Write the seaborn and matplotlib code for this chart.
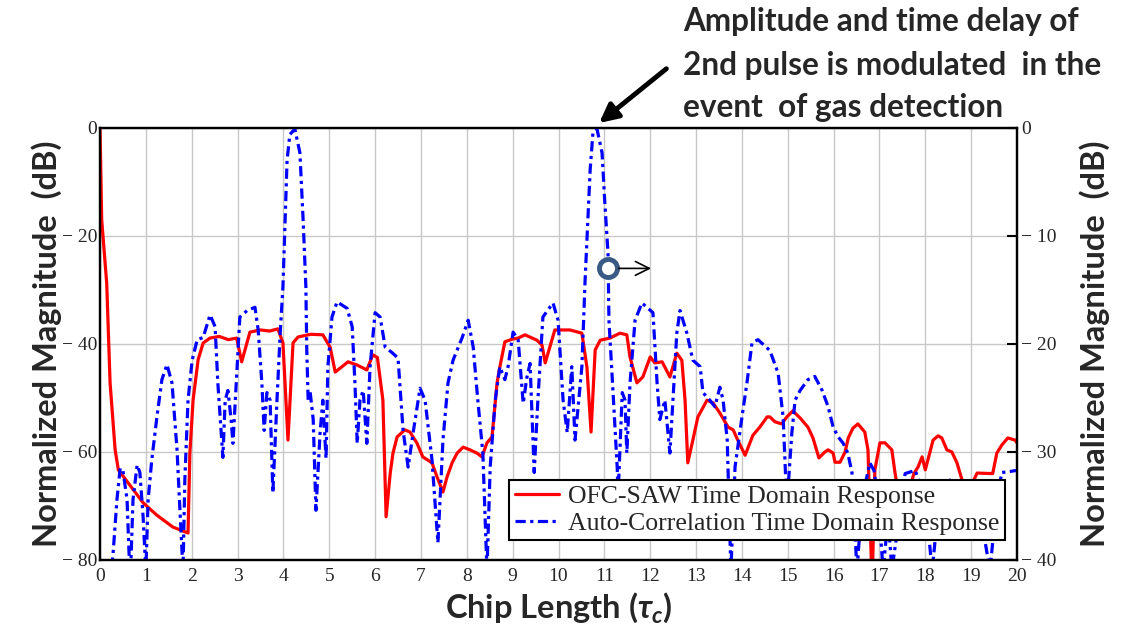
import numpy as np
import pandas as pd
import matplotlib
matplotlib.use("Agg")
import matplotlib.pyplot as plt
import seaborn as sns

# OFC-SAW time-domain response (left axis, dB)
ofc_t = [0.0, 0.037, 0.146, 0.22, 0.33, 0.40, 0.94, 1.24, 1.59, 1.92, 1.96, 2.03, 2.14, 2.25,
         2.40, 2.6, 2.8, 2.98, 3.09, 3.27, 3.5, 3.7, 3.88, 3.99, 4.10, 4.21, 4.32, 4.6, 4.86,
         5.02, 5.13, 5.41, 5.61, 5.82, 5.95, 6.05, 6.17, 6.24, 6.33, 6.39, 6.48, 6.65, 6.76,
         6.91, 7.04, 7.24, 7.35, 7.48, 7.57, 7.68, 7.79, 7.92, 8.07, 8.22, 8.33, 8.44, 8.55,
         8.66, 8.72, 8.83, 8.99, 9.12, 9.27, 9.53, 9.64, 9.71, 9.81, 9.92, 10.25, 10.51, 10.62,
         10.71, 10.80, 10.91, 11.12, 11.34, 11.49, 11.56, 11.71, 11.84, 12.00, 12.10, 12.26,
         12.43, 12.58, 12.69, 12.76, 12.82, 12.93, 13.04, 13.24, 13.37, 13.52, 13.70, 13.81,
         13.91, 14.07, 14.24, 14.39, 14.55, 14.61, 14.72, 14.87, 14.98, 15.11, 15.27, 15.44,
         15.55, 15.68, 15.81, 15.88, 15.99, 16.03, 16.14, 16.25, 16.32, 16.42, 16.53, 16.68,
         16.75, 16.84, 16.90, 17.01, 17.12, 17.27, 17.34, 17.5, 17.75, 17.84, 17.93, 18.0,
         18.17, 18.28, 18.36, 18.47, 18.58, 18.69, 18.9, 19.13, 19.47, 19.56, 19.67, 19.80,
         19.96, 20.0]
ofc_db = [0.0, -17.0, -28.7, -47.2, -59.6, -63.3, -69.4, -71.7, -73.9, -75.0, -60.2, -50.4,
          -42.9, -39.8, -38.9, -38.6, -39.2, -38.9, -43.3, -37.8, -37.4, -37.6, -37.2, -39.8,
          -57.8, -39.8, -38.7, -38.2, -38.3, -40.6, -45.2, -43.3, -43.9, -44.8, -42.0, -42.5,
          -50.4, -72.0, -63.9, -60.2, -57.2, -55.9, -56.3, -58.3, -60.9, -62.0, -64.6, -67.4,
          -64.6, -62.0, -60.2, -59.1, -59.6, -60.2, -60.9, -58.3, -57.2, -47.2, -44.3, -39.6,
          -39.1, -38.9, -38.3, -39.3, -40.2, -43.5, -40.6, -37.4, -37.4, -38.0, -44.3, -56.3,
          -41.1, -39.3, -38.9, -38.0, -38.3, -42.4, -47.2, -46.1, -42.4, -43.5, -43.3, -46.1,
          -41.7, -43.0, -50.4, -62.0, -57.8, -53.5, -50.4, -50.9, -52.8, -55.4, -55.9, -57.8,
          -60.6, -56.9, -55.4, -53.5, -53.5, -54.4, -54.8, -53.5, -52.4, -53.7, -55.4, -57.4,
          -61.1, -60.0, -59.6, -60.2, -61.9, -61.9, -60.0, -57.4, -55.6, -54.8, -56.3, -59.6,
          -85.0, -63.3, -58.3, -58.3, -59.6, -63.9, -72.0, -64.0, -62.8, -60.9, -63.3, -57.8,
          -57.0, -57.4, -59.6, -60.0, -62.0, -68.0, -63.9, -64.0, -60.2, -58.7, -57.4, -57.8,
          -58.3]

# Auto-correlation time-domain response (right axis, dB)
acr_t = [0.0, 0.28, 0.37, 0.44, 0.50, 0.59, 0.63, 0.66, 0.72, 0.81, 0.87, 0.94, 1.0, 1.05,
         1.13, 1.24, 1.35, 1.46, 1.57, 1.68, 1.74, 1.81, 1.85, 1.92, 2.01, 2.12, 2.25, 2.40,
         2.51, 2.57, 2.68, 2.73, 2.79, 2.86, 2.90, 2.99, 3.05, 3.21, 3.38, 3.45, 3.53, 3.58,
         3.64, 3.71, 3.77, 3.86, 3.93, 3.99, 4.08, 4.14, 4.25, 4.36, 4.43, 4.49, 4.51, 4.54,
         4.58, 4.65, 4.71, 4.80, 4.86, 4.93, 4.97, 5.06, 5.17, 5.39, 5.50, 5.56, 5.61, 5.67,
         5.74, 5.82, 5.89, 6.0, 6.11, 6.22, 6.37, 6.50, 6.61, 6.72, 6.83, 6.98, 7.09, 7.24,
         7.37, 7.48, 7.59, 7.70, 7.90, 8.03, 8.14, 8.24, 8.35, 8.44, 8.51, 8.62, 8.72, 8.83,
         8.90, 9.01, 9.12, 9.23, 9.31, 9.38, 9.47, 9.55, 9.66, 9.88, 9.99, 10.10, 10.19, 10.29,
         10.36, 10.51, 10.58, 10.64, 10.69, 10.75, 10.84, 10.95, 11.01, 11.08, 11.10, 11.19,
         11.28, 11.30, 11.39, 11.45, 11.49, 11.56, 11.67, 11.82, 12.06, 12.15, 12.21, 12.32,
         12.43, 12.58, 12.65, 12.80, 12.93, 13.09, 13.15, 13.30, 13.41, 13.52, 13.59, 13.68,
         13.76, 13.85, 14.0, 14.11, 14.22, 14.35, 14.61, 14.79, 14.90, 14.98, 15.09, 15.16,
         15.27, 15.44, 15.59, 15.75, 15.88, 15.99, 16.10, 16.21, 16.31, 16.40, 16.51, 16.62,
         16.79, 16.88, 16.97, 17.08, 17.19, 17.27, 17.56, 17.78, 18.0, 18.15, 18.32, 18.54,
         18.87, 19.19, 19.41, 19.56, 19.67, 19.85, 20.0]
acr_db = [-48.0, -39.7, -34.4, -31.5, -31.7, -34.4, -39.0, -42.0, -34.4, -31.2, -31.9, -36.0,
          -41.0, -34.4, -30.7, -26.8, -23.3, -21.9, -23.6, -29.8, -35.1, -41.0, -32.6, -25.2,
          -21.5, -19.6, -19.4, -17.3, -18.4, -23.6, -30.5, -25.2, -24.3, -27.0, -29.2, -22.1,
          -17.5, -16.9, -16.6, -18.7, -23.6, -28.0, -24.5, -25.2, -33.8, -25.2, -19.0, -14.7,
          -3.0, -0.6, -0.1, -2.3, -8.5, -14.7, -20.6, -25.2, -24.3, -27.0, -35.4, -28.2, -25.2,
          -30.6, -22.1, -17.5, -16.1, -16.7, -18.4, -23.6, -29.2, -25.2, -24.3, -29.2, -22.1,
          -17.1, -17.5, -20.3, -20.8, -21.3, -28.0, -31.4, -28.2, -24.1, -25.2, -30.7, -38.4,
          -28.9, -23.6, -21.5, -19.4, -17.8, -20.3, -25.2, -30.1, -41.0, -31.4, -25.2, -22.1,
          -23.3, -22.1, -18.9, -19.6, -25.5, -23.1, -21.8, -31.9, -25.2, -17.5, -16.2, -17.8,
          -25.2, -28.2, -22.1, -28.9, -22.1, -14.1, -8.5, -3.9, -0.5, -0.1, -2.3, -6.9, -11.6,
          -17.8, -24.5, -31.4, -34.0, -24.5, -25.2, -30.1, -23.6, -17.8, -16.2, -17.1, -23.6,
          -27.0, -25.2, -30.1, -19.0, -16.9, -19.0, -21.5, -22.1, -24.5, -25.2, -25.8, -24.0,
          -25.2, -28.9, -41.0, -31.4, -26.8, -23.6, -19.9, -19.6, -20.6, -22.7, -26.8, -35.0,
          -28.2, -25.2, -24.3, -23.3, -23.0, -24.3, -25.8, -27.7, -28.6, -29.2, -30.1, -31.9,
          -41.0, -34.4, -31.0, -31.7, -34.4, -41.0, -36.0, -41.0, -32.0, -31.7, -34.4, -41.0,
          -33.5, -32.6, -33.0, -35.4, -41.0, -34.4, -31.9, -31.8, -31.7]

x_ticks = list(range(0, 21))
left_ticks = [0, -20, -40, -60, -80]
right_ticks = [0, -10, -20, -30, -40]

callout_lines = ["Amplitude and time delay of",
                 "2nd pulse is modulated  in the",
                 "event  of gas detection"]

ofc = pd.DataFrame({"t": ofc_t, "db": ofc_db})
acr = pd.DataFrame({"t": acr_t, "db": acr_db})

sns.set_theme(style="white")
plt.rcParams["font.family"] = ["Liberation Serif", "DejaVu Serif"]
plt.rcParams["mathtext.fontset"] = "custom"
plt.rcParams["mathtext.it"] = "Lato:italic:bold"
plt.rcParams["mathtext.rm"] = "Lato:bold"

fig = plt.figure(figsize=(11.28, 6.33), dpi=100)
ax = fig.add_axes([100 / 1128, 1 - 560 / 633, 917 / 1128, 432 / 633])
ax2 = ax.twinx()

sns.lineplot(data=ofc, x="t", y="db", ax=ax, color="#ff0000", lw=2.3,
             sort=False, estimator=None, label="OFC-SAW Time Domain Response", legend=False)
sns.lineplot(data=acr, x="t", y="db", ax=ax2, color="#0000ff", lw=2.3,
             sort=False, estimator=None, label="Auto-Correlation Time Domain Response",
             legend=False)
ax2.lines[0].set_dashes((3.2, 1.4, 1.0, 1.4))

ax.set_xlim(0, 20)
ax.set_ylim(-80, 0)
ax2.set_ylim(-40, 0)

ax.set_xticks(x_ticks)
ax.set_xticklabels([str(v) for v in x_ticks], fontsize=14)
ax.set_yticks(left_ticks)
ax.set_yticklabels(["0" if v == 0 else "\u2212 %d" % abs(v) for v in left_ticks], fontsize=14)
ax2.set_yticks(right_ticks)
ax2.set_yticklabels(["0" if v == 0 else "\u2212 %d" % abs(v) for v in right_ticks], fontsize=14)

ax.grid(True, color="#c8c8c8", lw=1.0)
ax.tick_params(axis="x", length=0, pad=6)
ax.tick_params(axis="y", length=0, pad=2)
ax2.tick_params(axis="y", direction="in", length=7, width=1.5, pad=3, color="black")

for a in (ax, ax2):
    for s in a.spines.values():
        s.set_visible(True)
        s.set_color("black")
        s.set_linewidth(1.6)

label_font = dict(family="Lato", weight="bold", fontsize=23.5)
ax.set_ylabel("Normalized Magnitude  (dB)", labelpad=0, **label_font)
ax2.set_ylabel("Normalized Magnitude  (dB)", labelpad=16, **label_font)
ax.set_xlabel(r"Chip Length ($\tau_c$)", labelpad=4, **label_font)

# marker showing which axis the dash-dot trace belongs to
ax2.plot([11.08], [-13.0], marker="o", ms=13, mfc="white", mec="#3a5a86", mew=3.5, zorder=6)
ax2.annotate("", xy=(12.08, -13.0), xytext=(11.25, -13.0),
             arrowprops=dict(arrowstyle="->", lw=1.2, color="black", mutation_scale=25),
             zorder=6)

# callout for the second pulse
ax.annotate("", xy=(10.84, 0.6), xytext=(12.4, 11.3), annotation_clip=False,
            arrowprops=dict(arrowstyle="-|>", lw=3.5, color="black", mutation_scale=28))
for line, ypx in zip(callout_lines, [22, 65, 107]):
    fig.text(683 / 1128, 1 - ypx / 633, line, family="Lato", weight="bold",
             fontsize=22.7, ha="left", va="center")

handles = [ax.lines[0], ax2.lines[0]]
leg = ax2.legend(handles, [h.get_label() for h in handles], loc="lower right",
                 bbox_to_anchor=(905 / 917, 20 / 432), fontsize=18.5, frameon=True,
                 fancybox=False, framealpha=1, edgecolor="black", handlelength=1.75,
                 handletextpad=0.35, borderpad=0.2, labelspacing=0.15, borderaxespad=0)
leg.get_frame().set_linewidth(1.5)
leg.set_zorder(10)

fig.savefig("out.png", dpi=100)
